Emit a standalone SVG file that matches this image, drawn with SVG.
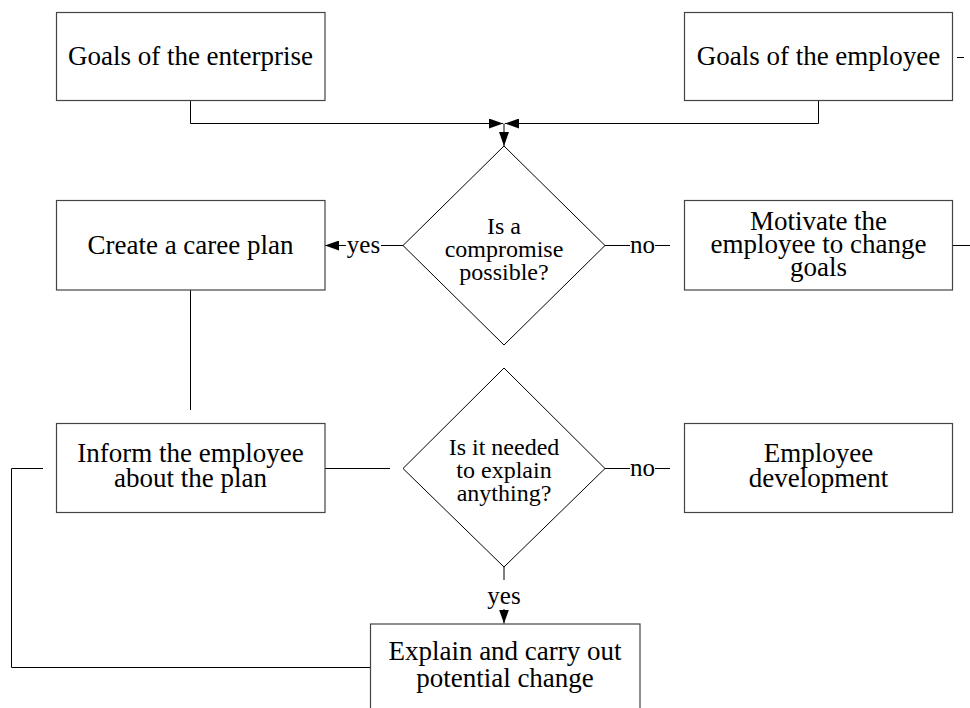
<svg xmlns="http://www.w3.org/2000/svg" width="970" height="708" viewBox="0 0 970 708">
<defs>
<style>
.box{fill:#fff;stroke:#444;stroke-width:1.2}
.dia{fill:#fff;stroke:#000;stroke-width:1}
.ln{fill:none;stroke:#000;stroke-width:1}
text{font-family:"Liberation Serif","Times New Roman",serif;fill:#000;text-anchor:middle}
.t{font-size:27px}
.d{font-size:24px}
.l{font-size:25px}
</style>
<marker id="ah" viewBox="0 0 14 10" refX="14" refY="5" markerWidth="14" markerHeight="10" markerUnits="userSpaceOnUse" orient="auto">
<path d="M0,0 L14,5 L0,10 Z" fill="#000"/>
</marker>
</defs>
<rect width="970" height="708" fill="#fff"/>
<g id="connectors">
<polyline class="ln" points="190.5,100 190.5,123.5 503,123.5" marker-end="url(#ah)"/>
<polyline class="ln" points="818.5,100 818.5,123.5 505,123.5" marker-end="url(#ah)"/>
<line class="ln" x1="504" y1="123.5" x2="504" y2="146" marker-end="url(#ah)"/>
<line class="ln" x1="381" y1="245.5" x2="403" y2="245.5"/>
<line class="ln" x1="346" y1="245.5" x2="325" y2="245.5" marker-end="url(#ah)"/>
<text class="l" x="363.5" y="253">yes</text>
<line class="ln" x1="605" y1="245.5" x2="630" y2="245.5"/>
<text class="l" x="642.5" y="253">no</text>
<line class="ln" x1="655" y1="245.5" x2="670" y2="245.5"/>
<line class="ln" x1="953" y1="245.5" x2="970" y2="245.5"/>
<line class="ln" x1="957" y1="57.5" x2="964" y2="57.5"/>
<line class="ln" x1="190.5" y1="290" x2="190.5" y2="410"/>
<line class="ln" x1="325" y1="468.5" x2="390" y2="468.5"/>
<line class="ln" x1="605" y1="468.5" x2="630" y2="468.5"/>
<text class="l" x="642.5" y="476">no</text>
<line class="ln" x1="655" y1="468.5" x2="670" y2="468.5"/>
<line class="ln" x1="504" y1="567" x2="504" y2="580"/>
<text class="l" x="504" y="604">yes</text>
<line class="ln" x1="504" y1="609" x2="504" y2="623.5" marker-end="url(#ah)"/>
<polyline class="ln" points="43,468.5 11.5,468.5 11.5,667.5 370,667.5"/>
</g>
<g id="goals-enterprise">
<rect class="box" x="56.5" y="12.5" width="268.5" height="88"/>
<text class="t" x="190.5" y="65">Goals of the enterprise</text>
</g>
<g id="goals-employee">
<rect class="box" x="684.5" y="12.5" width="268" height="88"/>
<text class="t" x="818.5" y="65">Goals of the employee</text>
</g>
<g id="compromise">
<polygon class="dia" points="504,146 605,245.5 504,345 403,245.5"/>
<text class="d" x="504" y="234">Is a</text>
<text class="d" x="504" y="257">compromise</text>
<text class="d" x="504" y="280">possible?</text>
</g>
<g id="career-plan">
<rect class="box" x="56.5" y="200.5" width="268.5" height="89.5"/>
<text class="t" x="190.5" y="254">Create a caree plan</text>
</g>
<g id="motivate">
<rect class="box" x="684.5" y="200.5" width="268" height="89.5"/>
<text class="t" x="818.5" y="230">Motivate the</text>
<text class="t" x="818.5" y="253">employee to change</text>
<text class="t" x="818.5" y="276">goals</text>
</g>
<g id="explain-needed">
<polygon class="dia" points="504,368 605,468.5 504,567 403,468.5"/>
<text class="d" x="504" y="455">Is it needed</text>
<text class="d" x="504" y="478">to explain</text>
<text class="d" x="504" y="501">anything?</text>
</g>
<g id="inform">
<rect class="box" x="56.5" y="423.5" width="268.5" height="89"/>
<text class="t" x="190.5" y="462">Inform the employee</text>
<text class="t" x="190.5" y="487">about the plan</text>
</g>
<g id="development">
<rect class="box" x="684.5" y="423.5" width="268" height="89"/>
<text class="t" x="818.5" y="462">Employee</text>
<text class="t" x="818.5" y="487">development</text>
</g>
<g id="explain">
<rect class="box" x="370.5" y="624" width="269.5" height="110"/>
<text class="t" x="505" y="660">Explain and carry out</text>
<text class="t" x="505" y="687">potential change</text>
</g>
</svg>
